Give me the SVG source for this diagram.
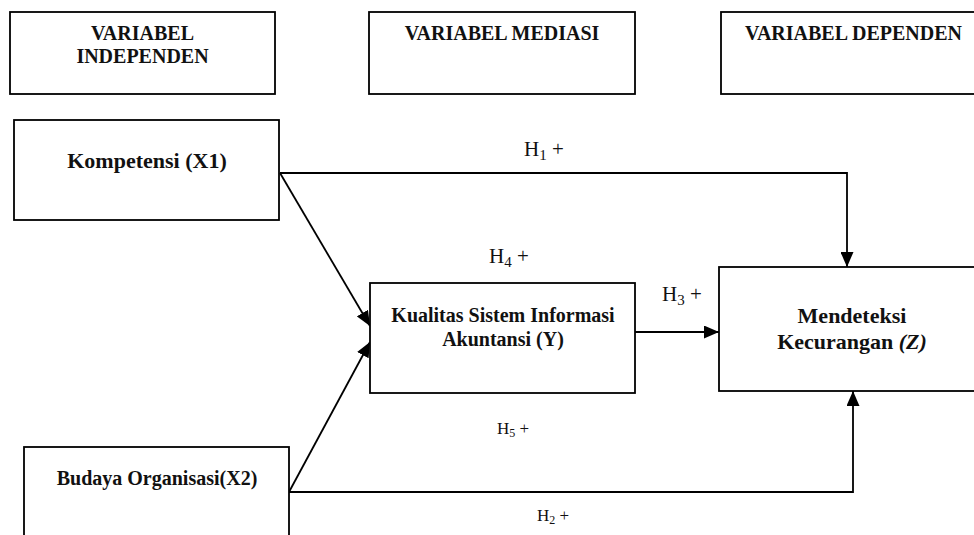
<svg xmlns="http://www.w3.org/2000/svg" width="974" height="535" viewBox="0 0 974 535">
<style>
.box{fill:#fff;stroke:#000;stroke-width:1.8}
.t{font-family:"Liberation Serif","Times New Roman",serif;font-weight:bold;fill:#111;text-anchor:middle}
.h{font-family:"Liberation Serif","Times New Roman",serif;fill:#111}
.c{fill:none;stroke:#000;stroke-width:1.8}
</style>
<defs>
<marker id="arr" markerUnits="userSpaceOnUse" markerWidth="15" markerHeight="13" refX="15" refY="6.5" orient="auto">
<path d="M0,0 L15,6.5 L0,13 z" fill="#000"/>
</marker>
</defs>
<rect width="974" height="535" fill="#fff"/>
<g id="hdr-independen">
<rect class="box" x="10" y="12" width="265" height="82"/>
<text class="t" x="142.5" y="40" font-size="20">VARIABEL</text>
<text class="t" x="142.5" y="63" font-size="20">INDEPENDEN</text>
</g>
<g id="hdr-mediasi">
<rect class="box" x="369" y="12" width="266" height="82"/>
<text class="t" x="502" y="40" font-size="20">VARIABEL MEDIASI</text>
</g>
<g id="hdr-dependen">
<rect class="box" x="721" y="12" width="270" height="82"/>
<text class="t" x="853.5" y="40" font-size="20">VARIABEL DEPENDEN</text>
</g>
<g id="connectors">
<polyline class="c" points="280,173 847,173 847,267" marker-end="url(#arr)"/>
<line class="c" x1="280" y1="173" x2="370" y2="326" marker-end="url(#arr)"/>
<line class="c" x1="289" y1="492" x2="370" y2="342" marker-end="url(#arr)"/>
<line class="c" x1="635" y1="332" x2="719" y2="332" marker-end="url(#arr)"/>
<polyline class="c" points="289,492 853,492 853,391" marker-end="url(#arr)"/>
</g>
<g id="x1">
<rect class="box" x="14" y="120" width="265" height="100"/>
<text class="t" x="147" y="168" font-size="22">Kompetensi (X1)</text>
</g>
<g id="y">
<rect class="box" x="370" y="283" width="265" height="110"/>
<text class="t" x="503" y="322" font-size="20">Kualitas Sistem Informasi</text>
<text class="t" x="503" y="346" font-size="20">Akuntansi (Y)</text>
</g>
<g id="z">
<rect class="box" x="719" y="267" width="272" height="124"/>
<text class="t" x="852" y="323" font-size="22">Mendeteksi</text>
<text class="t" x="852" y="349" font-size="22">Kecurangan <tspan font-style="italic">(Z)</tspan></text>
</g>
<g id="x2">
<rect class="box" x="24" y="447" width="265" height="100"/>
<text class="t" x="157" y="485" font-size="20">Budaya Organisasi(X2)</text>
</g>
<g id="labels">
<text class="h" x="524" y="156" font-size="21">H<tspan font-size="15" dy="4">1</tspan><tspan dy="-4"> +</tspan></text>
<text class="h" x="489" y="263" font-size="21">H<tspan font-size="15" dy="4">4</tspan><tspan dy="-4"> +</tspan></text>
<text class="h" x="662" y="301" font-size="21">H<tspan font-size="15" dy="4">3</tspan><tspan dy="-4"> +</tspan></text>
<text class="h" x="497" y="434" font-size="17">H<tspan font-size="12" dy="3">5</tspan><tspan dy="-3"> +</tspan></text>
<text class="h" x="537" y="521" font-size="17">H<tspan font-size="12" dy="3">2</tspan><tspan dy="-3"> +</tspan></text>
</g>
</svg>
